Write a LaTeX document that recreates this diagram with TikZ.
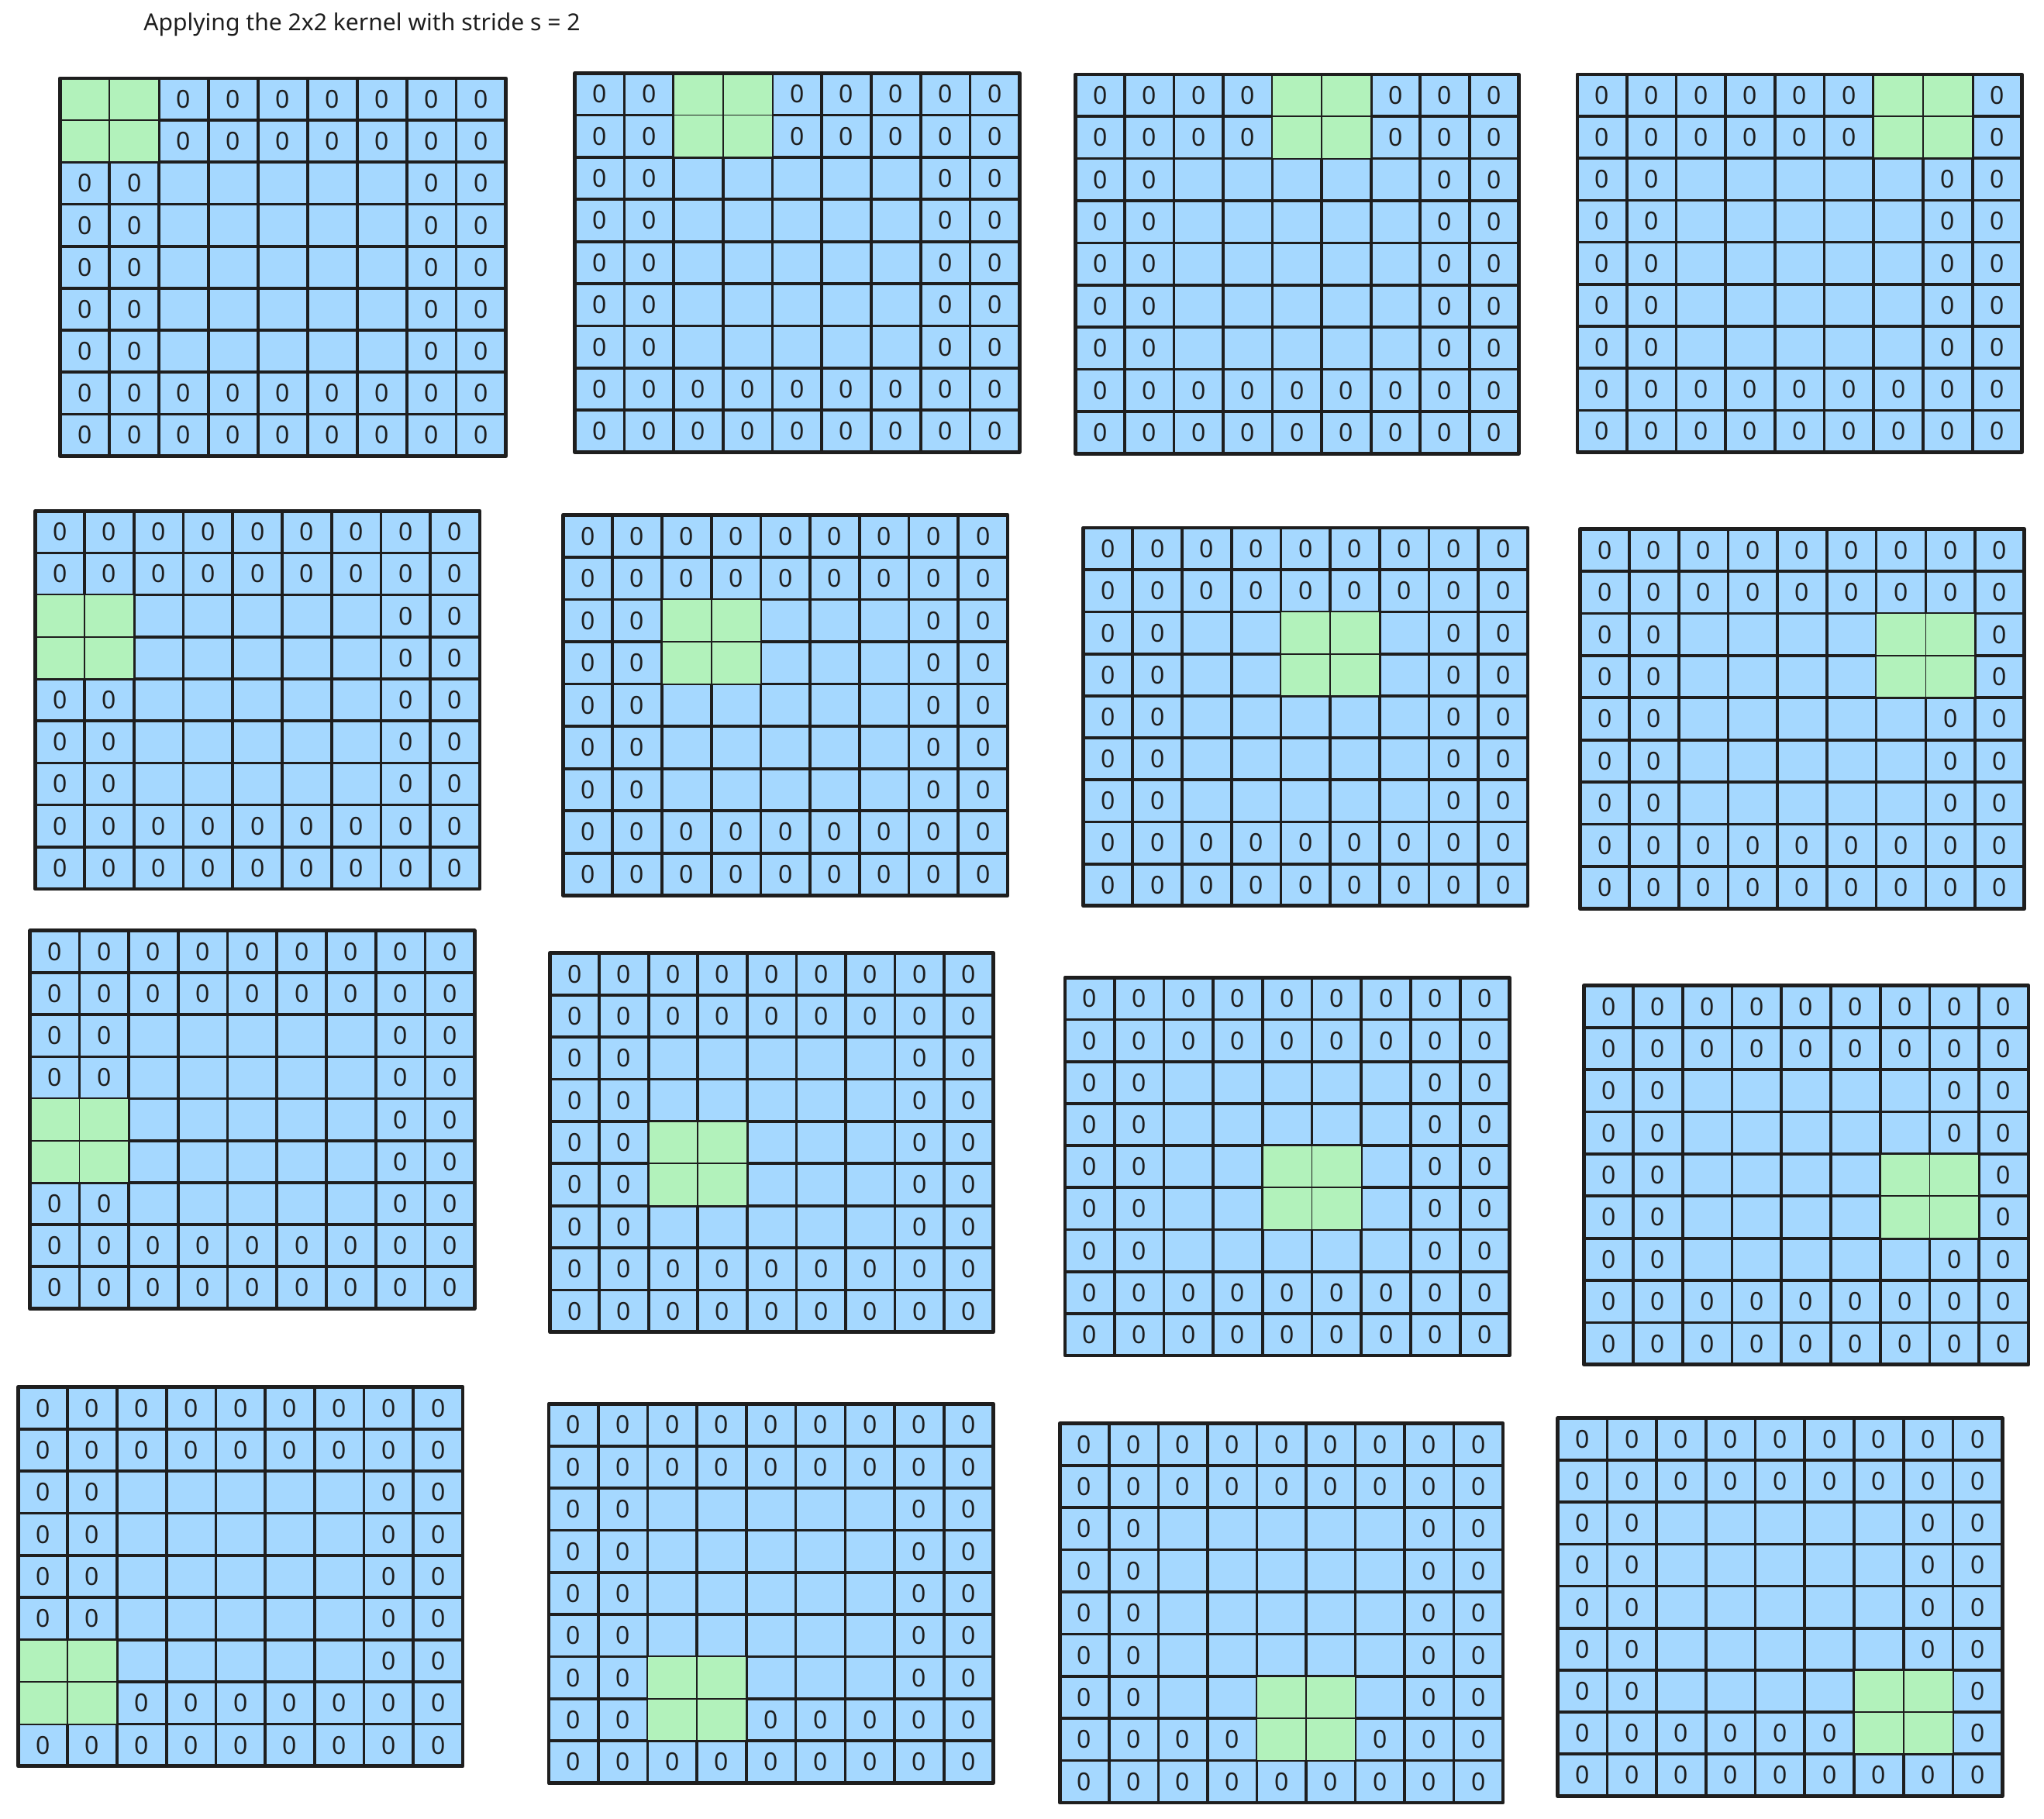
\documentclass[tikz,border=0pt]{standalone}
\usepackage{fontspec}
\setmainfont{Noto Sans}
\definecolor{cellblue}{HTML}{A5D8FF}
\definecolor{kerngreen}{HTML}{B2F2BB}
\definecolor{ink}{HTML}{1E1E1E}
\tikzset{
  gridline/.style={draw=ink, line width=2.2pt, line cap=round},
  outline/.style={draw=ink, line width=2.8pt, line join=round},
  kernline/.style={draw=ink, line width=1pt},
  zero/.style={inner sep=0pt, text=ink, font=\fontsize{19}{19}\selectfont},
  title/.style={inner sep=0pt, text=ink, font=\fontsize{17.9}{20}\selectfont}
}
% #1 id, #2 x0, #3 y0, #4 x1, #5 y1, #6 kernel row, #7 kernel col
\newcommand{\convpanel}[7]{%
  \pgfmathsetmacro{\cw}{(#4-#2)/9}%
  \pgfmathsetmacro{\ch}{(#5-#3)/9}%
  \fill[cellblue] (#2,#3) rectangle (#4,#5);
  \foreach \i in {1,...,8}{%
    \draw[gridline] ({#2+\i*\cw},#3) -- ({#2+\i*\cw},#5);
    \draw[gridline] (#2,{#3+\i*\ch}) -- (#4,{#3+\i*\ch});
  }
  \foreach \r in {1,...,9}{%
    \foreach \c in {1,...,9}{%
      \pgfmathtruncatemacro{\ispad}{or(or(\r<3,\r>7),or(\c<3,\c>7))}%
      \pgfmathtruncatemacro{\inker}{and(and(\r>=#6,\r<=#6+1),and(\c>=#7,\c<=#7+1))}%
      \ifnum\ispad=1 \ifnum\inker=0
        \node[zero] (#1-\r-\c) at ({#2+(\c-0.5)*\cw},{#3+(\r-0.5)*\ch}) {0};
      \fi\fi
    }
  }
  \pgfmathsetmacro{\kxa}{#2+(#7-1)*\cw}%
  \pgfmathsetmacro{\kya}{#3+(#6-1)*\ch}%
  \fill[kerngreen] (\kxa,\kya) rectangle ({\kxa+2*\cw},{\kya+2*\ch});
  \draw[kernline] (\kxa,\kya) rectangle ({\kxa+2*\cw},{\kya+2*\ch});
  \draw[kernline] ({\kxa+\cw},\kya) -- ({\kxa+\cw},{\kya+2*\ch});
  \draw[kernline] (\kxa,{\kya+\ch}) -- ({\kxa+2*\cw},{\kya+\ch});
  \draw[outline] (#2,#3) rectangle (#4,#5);
}
\begin{document}
\begin{tikzpicture}[x=1pt,y=-1pt]
\useasboundingbox (0,0) rectangle (1568,1395.5);
\fill[white] (0,0) rectangle (1568,1395.5);
\node[title, anchor=west] (title) at (110,19) {Applying the 2x2 kernel with stride s = 2};
% row 1
\convpanel{p1}{46}{60}{388}{350}{1}{1}
\convpanel{p2}{441}{56}{782}{347}{1}{3}
\convpanel{p3}{825}{57}{1165}{348}{1}{5}
\convpanel{p4}{1210}{57}{1551}{347}{1}{7}
% row 2
\convpanel{p5}{27}{392}{368}{682}{3}{1}
\convpanel{p6}{432}{395}{773}{687}{3}{3}
\convpanel{p7}{831}{405}{1172}{695}{3}{5}
\convpanel{p8}{1212}{406}{1553}{697}{3}{7}
% row 3
\convpanel{p9}{23}{714}{364}{1004}{5}{1}
\convpanel{p10}{422}{731}{762}{1022}{5}{3}
\convpanel{p11}{817}{750}{1158}{1040}{5}{5}
\convpanel{p12}{1215}{756}{1556}{1047}{5}{7}
% row 4
\convpanel{p13}{14}{1064}{355}{1355}{7}{1}
\convpanel{p14}{421}{1077}{762}{1368}{7}{3}
\convpanel{p15}{813}{1092}{1153}{1383}{7}{5}
\convpanel{p16}{1195}{1088}{1536}{1378}{7}{7}
\end{tikzpicture}
\end{document}
